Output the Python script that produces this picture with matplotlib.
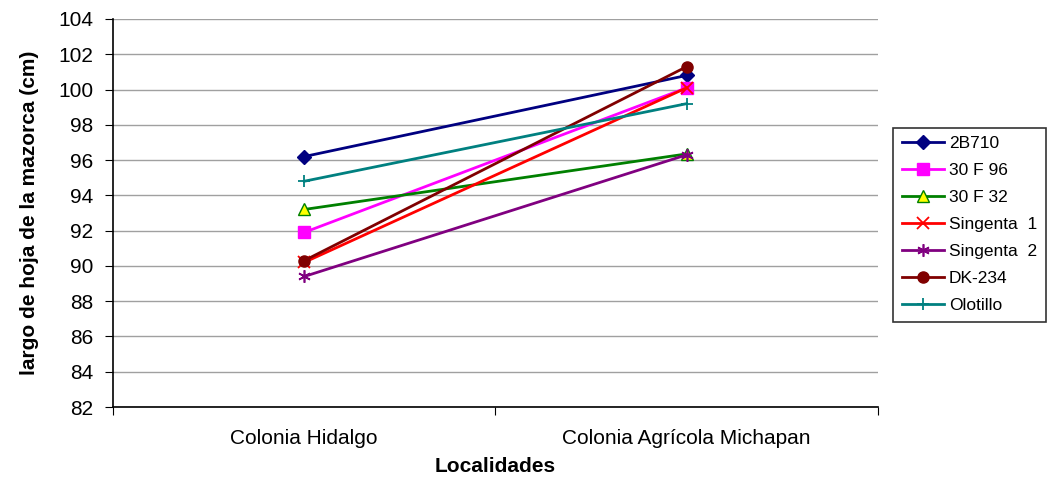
import matplotlib.pyplot as plt

plt.rcParams['font.family'] = ['Liberation Sans', 'DejaVu Sans']

# Localities and leaf length per hybrid
localidades = ['Colonia Hidalgo', 'Colonia Agrícola Michapan']
hibridos = ['2B710', '30 F 96', '30 F 32', 'Singenta  1', 'Singenta  2', 'DK-234', 'Olotillo']
v_2b710 = [96.2, 100.8]
v_30f96 = [91.9, 100.1]
v_30f32 = [93.2, 96.35]
v_sing1 = [90.2, 100.1]
v_sing2 = [89.4, 96.3]
v_dk234 = [90.3, 101.3]
v_olotillo = [94.8, 99.2]

valores = [v_2b710, v_30f96, v_30f32, v_sing1, v_sing2, v_dk234, v_olotillo]
estilos = [
    dict(color='#000080', marker='D', ms=7, mfc='#000080'),
    dict(color='#FF00FF', marker='s', ms=8, mfc='#FF00FF'),
    dict(color='#008000', marker='^', ms=9, mfc='#FFFF00', mec='#008000'),
    dict(color='#FF0000', marker='x', ms=8, mew=1.3),
    dict(color='#800080', marker=(6, 2, 0), ms=9, mew=1.2),
    dict(color='#800000', marker='o', ms=8, mfc='#800000'),
    dict(color='#008080', marker='+', ms=9, mew=1.3),
]

fig = plt.figure(figsize=(10.52, 4.78), dpi=100)
ax = fig.add_axes([0.1074, 0.1485, 0.7272, 0.8118])

x = [0.5, 1.5]
for nombre, vals, st in zip(hibridos, valores, estilos):
    ax.plot(x, vals, lw=2, label=nombre, **st)

ax.set_xlim(0, 2)
ax.set_ylim(82, 104)
ax.set_yticks(range(82, 105, 2))
ax.set_xticks([0, 1, 2])
ax.set_xticklabels([])
ax.set_xticks(x, minor=True)
ax.set_xticklabels(localidades, minor=True, fontsize=15)
ax.tick_params(axis='x', which='minor', length=0, pad=16)
ax.tick_params(axis='x', which='major', length=6, direction='out')
ax.tick_params(axis='y', labelsize=15, length=6, direction='out', pad=8)

ax.grid(axis='y', color='#A0A0A0', lw=1)
ax.set_axisbelow(True)
for s in ['top', 'right']:
    ax.spines[s].set_visible(False)
ax.spines['left'].set_linewidth(1.2)
ax.spines['bottom'].set_linewidth(1.2)

ax.set_ylabel('largo de hoja de la mazorca (cm)', fontsize=15, fontweight='bold', labelpad=14)
ax.set_xlabel('Localidades', fontsize=15, fontweight='bold', labelpad=6)

leg = ax.legend(loc='center left', bbox_to_anchor=(1.02, 0.47), fontsize=12.5,
                frameon=True, fancybox=False, edgecolor='black', borderpad=0.5,
                handlelength=2.4, labelspacing=0.68, handletextpad=0.3,
                borderaxespad=0)
leg.get_frame().set_linewidth(1.2)

fig.savefig('out.png', dpi=100)
